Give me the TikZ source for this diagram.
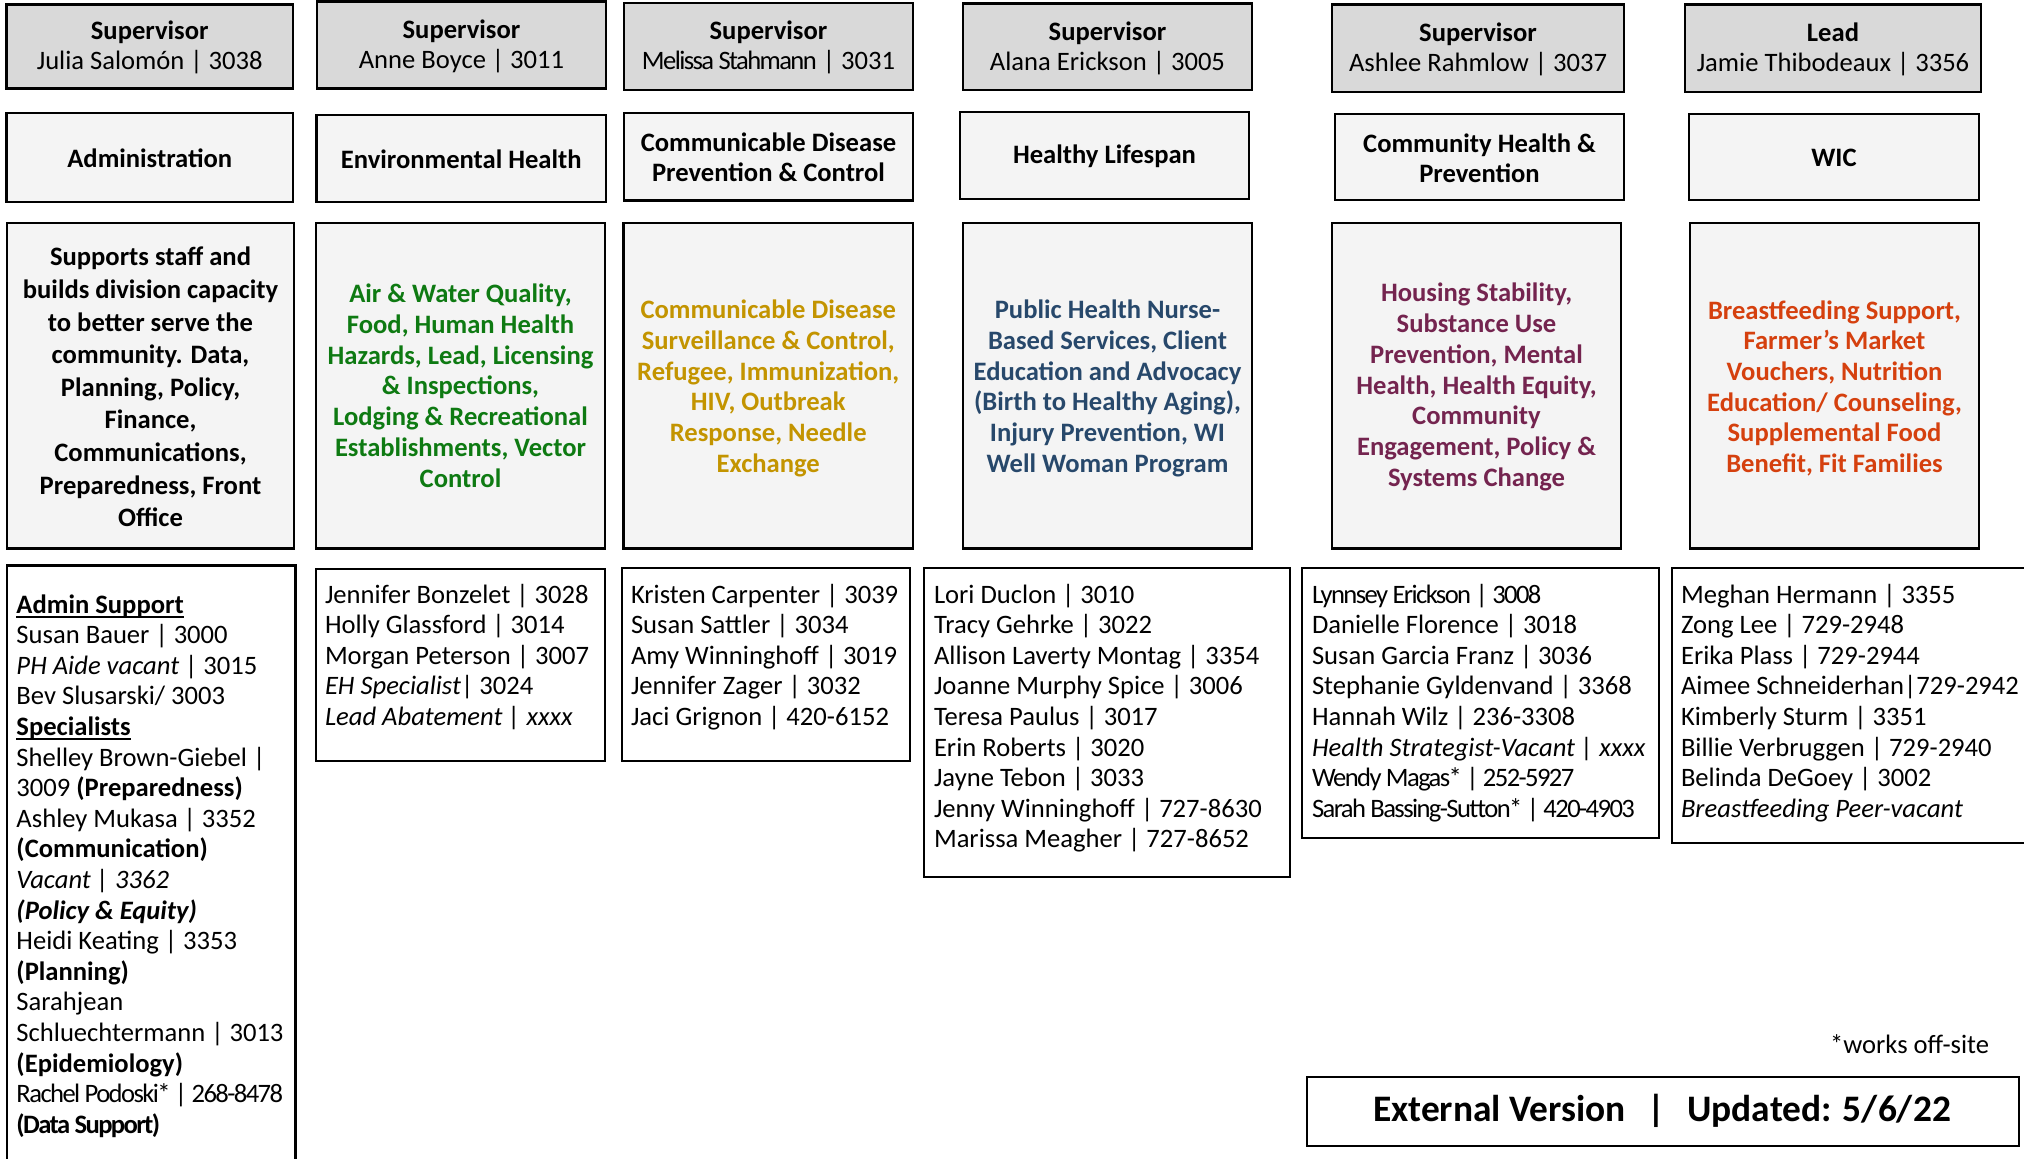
\documentclass[tikz,border=0pt]{standalone}
\usepackage{fontspec}
\setmainfont{Carlito}
\newfontfamily\condensed[LetterSpace=-6]{Carlito}
\definecolor{supfill}{HTML}{D9D9D9}
\definecolor{boxfill}{HTML}{F4F4F4}
\definecolor{ehgreen}{HTML}{0E7A12}
\definecolor{cdgold}{HTML}{C39400}
\definecolor{hlblue}{HTML}{27486B}
\definecolor{chpurple}{HTML}{74244F}
\definecolor{wicred}{HTML}{D5400E}
\newcommand\ulbf[1]{\leavevmode\setbox0\hbox{\bfseries #1}\rlap{\rule[-2.4pt]{\wd0}{0.9pt}}\box0}
\newcommand\lines[1]{\parbox[t]{190pt}{\raggedright\leavevmode #1}}
\tikzset{
  every node/.style={inner sep=0pt, outer sep=0pt},
  sz/.style 2 args={minimum width={(#1)*0.5pt}, minimum height={(#2)*0.5pt}},
  supbox/.style={draw=black, line width=1.4pt, fill=supfill},
  deptbox/.style={draw=black, line width=1.3pt, fill=boxfill},
  listbox/.style={draw=black, line width=1.2pt, fill=white},
  suptext/.style={align=center, yshift=-0.65pt, font=\fontsize{13.3}{15}\selectfont},
  depttext/.style={align=center, yshift=-0.4pt, font=\fontsize{13.3}{15}\selectfont\bfseries},
  desctext/.style={align=center, font=\fontsize{13.3}{15.35}\selectfont\bfseries},
  listtext/.style={anchor=base west, font=\fontsize{13.3}{15.3}\selectfont},
}
\begin{document}
\begin{tikzpicture}[x=0.5pt, y=-0.5pt]
\useasboundingbox[fill=white] (0,0) rectangle (2024,1158);

% supervisor row
\node[supbox, sz={286.5}{84.4}] (s1) at (149.75,46.5) {};
\node[supbox, sz={289}{87}] (s2) at (461.5,45.2) {};
\node[supbox, sz={289}{87}] (s3) at (768.5,46.5) {};
\node[supbox, sz={289}{86.7}] (s4) at (1107.5,46.7) {};
\node[supbox, sz={292}{87.7}] (s5) at (1478,48.2) {};
\node[supbox, sz={296}{87.7}] (s6) at (1833,48.2) {};
\node[suptext] (s1t) at (s1.center) {\textbf{Supervisor}\\Julia Salomón | 3038};
\node[suptext] (s2t) at (s2.center) {\textbf{Supervisor}\\Anne Boyce | 3011};
\node[suptext] (s3t) at (s3.center) {\textbf{Supervisor}\\{\condensed Melissa Stahmann} | 3031};
\node[suptext] (s4t) at (s4.center) {\textbf{Supervisor}\\Alana Erickson | 3005};
\node[suptext] (s5t) at (s5.center) {\textbf{Supervisor}\\Ashlee Rahmlow | 3037};
\node[suptext] (s6t) at (s6.center) {\textbf{Lead}\\Jamie Thibodeaux | 3356};

% department row
\node[deptbox, sz={286.5}{89}] (d1) at (149.75,157.5) {};
\node[deptbox, sz={289.5}{87}] (d2) at (461.25,158.5) {};
\node[deptbox, sz={289}{87.7}] (d3) at (768.5,156.8) {};
\node[deptbox, sz={289}{87}] (d4) at (1104.5,155.5) {};
\node[deptbox, sz={289}{86}] (d5) at (1479.5,157) {};
\node[deptbox, sz={290}{86}] (d6) at (1834,157) {};
\node[depttext] (d1t) at (d1.center) {Administration};
\node[depttext] (d2t) at (d2.center) {Environmental Health};
\node[depttext] (d3t) at (d3.center) {Communicable Disease\\Prevention \& Control};
\node[depttext] (d4t) at (d4.center) {Healthy Lifespan};
\node[depttext] (d5t) at (d5.center) {Community Health \&\\Prevention};
\node[depttext] (d6t) at (d6.center) {WIC};

% description row
\node[deptbox, sz={287}{325.5}] (c1) at (150.5,385.75) {};
\node[deptbox, sz={289}{325.5}] (c2) at (460.5,385.75) {};
\node[deptbox, sz={289.5}{325.5}] (c3) at (768.25,385.75) {};
\node[deptbox, sz={289}{325.5}] (c4) at (1107.5,385.75) {};
\node[deptbox, sz={289}{325.5}] (c5) at (1476.5,385.75) {};
\node[deptbox, sz={289}{325.5}] (c6) at (1834.5,385.75) {};
\node[desctext, font=\fontsize{13.3}{16.3}\selectfont\bfseries, yshift=-0.6pt] (c1t) at (c1.center)
  {Supports staff and\\builds division capacity\\to better serve the\\community. Data,\\Planning, Policy,\\Finance,\\Communications,\\Preparedness, Front\\Office};
\node[desctext, text=ehgreen] (c2t) at (c2.center)
  {Air \& Water Quality,\\Food, Human Health\\Hazards, Lead, Licensing\\\& Inspections,\\Lodging \& Recreational\\Establishments, Vector\\Control};
\node[desctext, text=cdgold, yshift=-1.3pt] (c3t) at (c3.center)
  {Communicable Disease\\Surveillance \& Control,\\Refugee, Immunization,\\HIV, Outbreak\\Response, Needle\\Exchange};
\node[desctext, text=hlblue, yshift=-1.3pt] (c4t) at (c4.center)
  {Public Health Nurse-\\Based Services, Client\\Education and Advocacy\\(Birth to Healthy Aging),\\Injury Prevention, WI\\Well Woman Program};
\node[desctext, text=chpurple, yshift=-0.6pt] (c5t) at (c5.center)
  {Housing Stability,\\Substance Use\\Prevention, Mental\\Health, Health Equity,\\Community\\Engagement, Policy \&\\Systems Change};
\node[desctext, text=wicred, yshift=-1.3pt] (c6t) at (c6.center)
  {Breastfeeding Support,\\Farmer’s Market\\Vouchers, Nutrition\\Education/ Counseling,\\Supplemental Food\\Benefit, Fit Families};

% staff list boxes
\node[listbox, sz={288.5}{609.5}] (l1) at (151.25,870.25) {};
\node[listbox, sz={289}{192}] (l2) at (460.5,665) {};
\node[listbox, sz={288}{193}] (l3) at (766,664.5) {};
\node[listbox, sz={366}{309}] (l4) at (1107,722.5) {};
\node[listbox, sz={357}{270}] (l5) at (1480.5,703) {};
\node[listbox, sz={368}{275}] (l6) at (1856,705.5) {};

\node[listtext] (t1) at (16.5,613) {\lines{%
\ulbf{Admin Support}\\
Susan Bauer | 3000\\
\textit{PH Aide vacant} | 3015\\
Bev Slusarski/ 3003\\
\ulbf{Specialists}\\
Shelley Brown-Giebel |\\
3009 \textbf{(Preparedness)}\\
Ashley Mukasa | 3352\\
\textbf{(Communication)}\\
\textit{Vacant | 3362}\\
\textbf{\textit{(Policy \& Equity)}}\\
Heidi Keating | 3353\\
\textbf{(Planning)}\\
Sarahjean\\
Schluechtermann | 3013\\
\textbf{(Epidemiology)}\\
{\condensed Rachel Podoski* | 268-8478}\\
{\condensed\bfseries (Data Support)}}};

\node[listtext] (t2) at (325,603) {\lines{%
Jennifer Bonzelet | 3028\\
Holly Glassford | 3014\\
Morgan Peterson | 3007\\
\textit{EH Specialist}| 3024\\
\textit{Lead Abatement | xxxx}}};

\node[listtext] (t3) at (631,603) {\lines{%
Kristen Carpenter | 3039\\
Susan Sattler | 3034\\
Amy Winninghoff | 3019\\
Jennifer Zager | 3032\\
Jaci Grignon | 420-6152}};

\node[listtext] (t4) at (934,603) {\lines{%
Lori Duclon | 3010\\
Tracy Gehrke | 3022\\
Allison Laverty Montag | 3354\\
Joanne Murphy Spice | 3006\\
Teresa Paulus | 3017\\
Erin Roberts | 3020\\
Jayne Tebon | 3033\\
Jenny Winninghoff | 727-8630\\
Marissa Meagher | 727-8652}};

\node[listtext] (t5) at (1312,603) {\lines{%
{\condensed Lynnsey Erickson | 3008}\\
Danielle Florence | 3018\\
Susan Garcia Franz | 3036\\
Stephanie Gyldenvand | 3368\\
Hannah Wilz | 236-3308\\
\textit{Health Strategist-Vacant | xxxx}\\
{\condensed Wendy Magas* | 252-5927}\\
{\condensed Sarah Bassing-Sutton* | 420-4903}}};

\node[listtext] (t6) at (1681,603) {\lines{%
Meghan Hermann | 3355\\
Zong Lee | 729-2948\\
Erika Plass | 729-2944\\
Aimee Schneiderhan|729-2942\\
Kimberly Sturm | 3351\\
Billie Verbruggen | 729-2940\\
Belinda DeGoey | 3002\\
\textit{Breastfeeding Peer-vacant}}};

% footnote and version box
\node[anchor=base east, font=\fontsize{13.3}{15.3}\selectfont] (note) at (1989,1053) {*works off-site};
\node[draw=black, line width=1.4pt, fill=white, sz={712}{69}] (ver) at (1663,1111.5) {};
\node[font=\fontsize{18.7}{22}\selectfont\bfseries] (vertext) at (1662,1111)
  {External Version\hspace{11pt}|\hspace{11pt}Updated: 5/6/22};
\end{tikzpicture}
\end{document}
